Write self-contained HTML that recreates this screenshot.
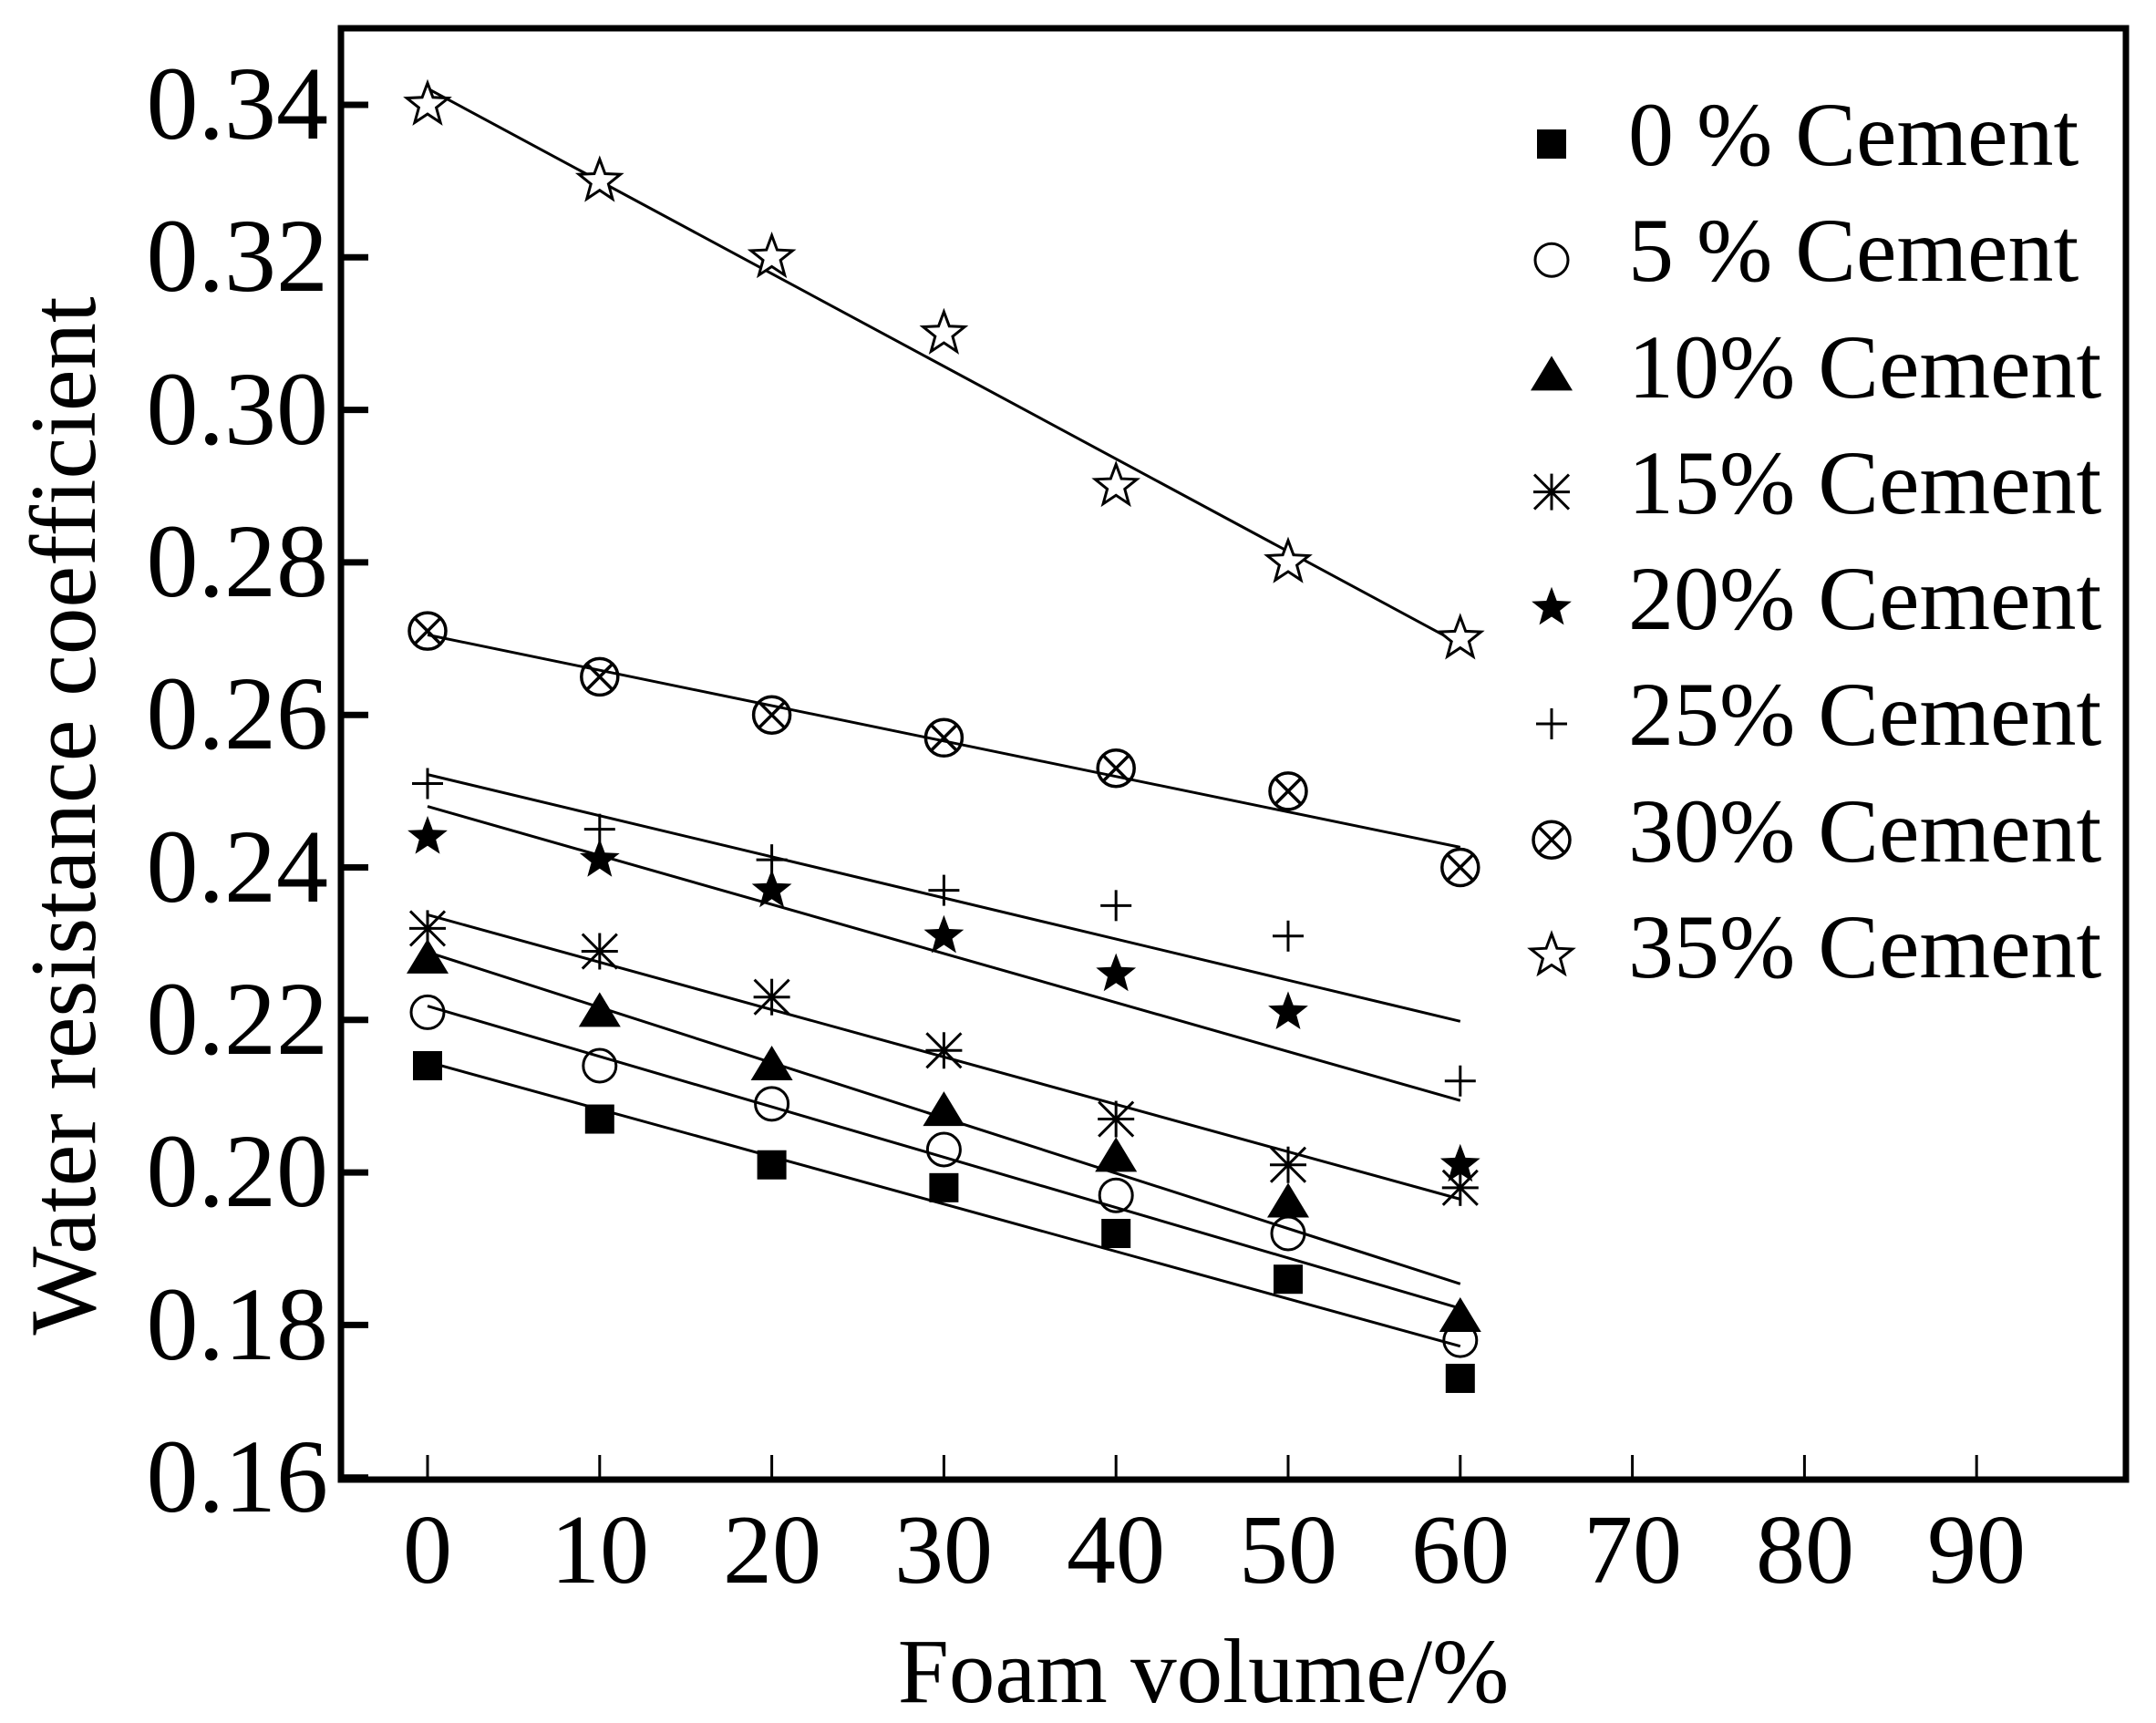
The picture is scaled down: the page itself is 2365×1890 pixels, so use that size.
<!DOCTYPE html>
<html><head><meta charset="utf-8">
<style>
html,body{margin:0;padding:0;background:#fff;}
svg{display:block;}
text{font-family:"Liberation Serif",serif;fill:#000;}
</style></head>
<body>
<svg id="c" width="2365" height="1890" viewBox="0 0 2365 1890" xmlns="http://www.w3.org/2000/svg">
<rect x="0" y="0" width="2365" height="1890" fill="#fff"/>
<g id="plot"></g>
<rect x="374" y="31" width="1958" height="1592" fill="none" stroke="#000" stroke-width="7"/>
<g font-size="114" text-anchor="end">
<text x="360" y="152">0.34</text>
<text x="360" y="319">0.32</text>
<text x="360" y="487">0.30</text>
<text x="360" y="654">0.28</text>
<text x="360" y="821">0.26</text>
<text x="360" y="989">0.24</text>
<text x="360" y="1156">0.22</text>
<text x="360" y="1323">0.20</text>
<text x="360" y="1491">0.18</text>
<text x="360" y="1658">0.16</text>
</g>
<g font-size="108" text-anchor="middle">
<text x="469" y="1736">0</text>
<text x="658" y="1736">10</text>
<text x="847" y="1736">20</text>
<text x="1035" y="1736">30</text>
<text x="1224" y="1736">40</text>
<text x="1413" y="1736">50</text>
<text x="1602" y="1736">60</text>
<text x="1791" y="1736">70</text>
<text x="1980" y="1736">80</text>
<text x="2168" y="1736">90</text>
</g>
<g font-size="101" text-anchor="middle">
<text x="1320" y="1867">Foam volume/%</text>
<text transform="translate(104,895) rotate(-90)" x="0" y="0" font-size="103">Water resistance coefficient</text>
</g>
<g font-size="100">
<text x="1786" y="181">0 % Cement</text>
<text x="1786" y="308">5 % Cement</text>
<text x="1786" y="436">10% Cement</text>
<text x="1786" y="563">15% Cement</text>
<text x="1786" y="690">20% Cement</text>
<text x="1786" y="817">25% Cement</text>
<text x="1786" y="945">30% Cement</text>
<text x="1786" y="1072">35% Cement</text>
</g>
</svg>
<script>
(function(){
var NS="http://www.w3.org/2000/svg";
var g=document.getElementById("plot");
function el(n,a){var e=document.createElementNS(NS,n);for(var k in a)e.setAttribute(k,a[k]);g.appendChild(e);return e;}
function X(v){return 469+v*18.88;}
function Y(v){return 115+(0.34-v)/0.02*167.3;}
for(var i=0;i<10;i++){var x=X(i*10);el("line",{x1:x,y1:1623,x2:x,y2:1596,stroke:"#000","stroke-width":3});}
for(var j=0;j<10;j++){var y=115+j*167.3;el("line",{x1:374,y1:y,x2:404,y2:y,stroke:"#000","stroke-width":7});}
var data=[
["sq",[0.214,0.207,0.201,0.198,0.192,0.186,0.173]],
["ci",[0.221,0.214,0.209,0.203,0.197,0.192,0.178]],
["tr",[0.228,0.221,0.214,0.208,0.202,0.196,0.181]],
["as",[0.232,0.229,0.223,0.216,0.207,0.201,0.198]],
["fs",[0.244,0.241,0.237,0.231,0.226,0.221,0.201]],
["pl",[0.251,0.245,0.241,0.237,0.235,0.231,0.212]],
["cx",[0.271,0.265,0.260,0.257,0.253,0.250,0.240]],
["os",[0.340,0.330,0.320,0.310,0.290,0.280,0.270]]];
function starPts(cx,cy,R){var r=R*0.42,p=[];for(var k=0;k<10;k++){var a=-Math.PI/2+k*Math.PI/5;var rr=k%2?r:R;p.push((cx+rr*Math.cos(a)).toFixed(1)+","+(cy+rr*Math.sin(a)).toFixed(1));}return p.join(" ");}
function marker(t,x,y){
 if(t=="sq")el("rect",{x:x-16,y:y-16,width:32,height:32,fill:"#000"});
 else if(t=="ci")el("circle",{cx:x,cy:y,r:18,fill:"none",stroke:"#000","stroke-width":3});
 else if(t=="tr")el("polygon",{points:(x)+","+(y-22)+" "+(x-23)+","+(y+16)+" "+(x+23)+","+(y+16),fill:"#000"});
 else if(t=="as"){el("line",{x1:x-20,y1:y,x2:x+20,y2:y,stroke:"#000","stroke-width":3});el("line",{x1:x,y1:y-20,x2:x,y2:y+20,stroke:"#000","stroke-width":3});el("line",{x1:x-19,y1:y-19,x2:x+19,y2:y+19,stroke:"#000","stroke-width":3});el("line",{x1:x-19,y1:y+19,x2:x+19,y2:y-19,stroke:"#000","stroke-width":3});}
 else if(t=="fs")el("polygon",{points:starPts(x,y,23),fill:"#000"});
 else if(t=="pl"){el("line",{x1:x-17,y1:y,x2:x+17,y2:y,stroke:"#000","stroke-width":3});el("line",{x1:x,y1:y-17,x2:x,y2:y+17,stroke:"#000","stroke-width":3});}
 else if(t=="cx"){el("circle",{cx:x,cy:y,r:20,fill:"none",stroke:"#000","stroke-width":3.5});el("line",{x1:x-14,y1:y-14,x2:x+14,y2:y+14,stroke:"#000","stroke-width":3.5});el("line",{x1:x-14,y1:y+14,x2:x+14,y2:y-14,stroke:"#000","stroke-width":3.5});}
 else if(t=="os")el("polygon",{points:starPts(x,y,24),fill:"#fff",stroke:"#000","stroke-width":3});
}
data.forEach(function(d){
 var ys=d[1],mx=30,my=0;ys.forEach(function(v){my+=v;});my/=7;
 var sxy=0;ys.forEach(function(v,i){sxy+=(i*10-mx)*(v-my);});
 var b=sxy/2800,a=my-b*mx;
 el("line",{x1:X(0),y1:Y(a),x2:X(60),y2:Y(a+b*60),stroke:"#000","stroke-width":3});
});
data.forEach(function(d,idx){
 d[1].forEach(function(v,i){marker(d[0],X(i*10),Y(v));});
 marker(d[0],1702,158+idx*127.2);
});
})();
</script>
</body></html>
